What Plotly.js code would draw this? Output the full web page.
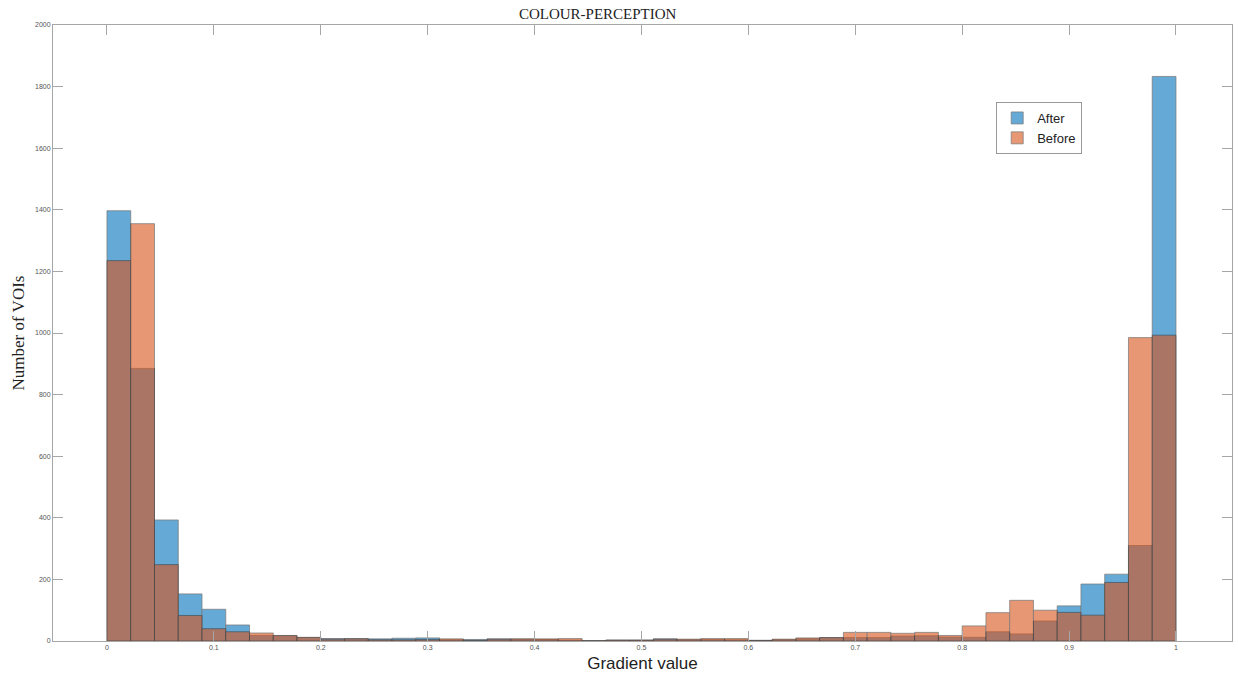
<!DOCTYPE html>
<html>
<head>
<meta charset="utf-8">
<script src="https://cdn.plot.ly/plotly-3.0.1.min.js"></script>
<style>
html,body{margin:0;padding:0;background:#fff;}
#chart{width:1238px;height:677px;}
</style>
</head>
<body>
<div id="chart"></div>
<script>
// Histogram: 45 equal bins over [0, 1]
const nBins = 45;
const binStart = 0;
const binEnd = 1;
const afterCounts = [1397, 885, 393, 153, 103, 52, 18, 17, 11, 8,
                     8, 7, 9, 10, 4, 5, 7, 6, 5, 3,
                     1, 3, 3, 7, 4, 5, 4, 2, 4, 7,
                     11, 11, 11, 16, 17, 13, 12, 30, 23, 65,
                     114, 185, 217, 310, 1833];
const beforeCounts = [1235, 1355, 248, 83, 40, 30, 26, 18, 12, 6,
                      7, 4, 4, 5, 7, 2, 6, 7, 7, 8,
                      1, 3, 3, 6, 6, 8, 8, 2, 6, 10,
                      11, 28, 28, 25, 28, 18, 49, 92, 132, 100,
                      93, 84, 190, 985, 993];
const seriesNames = ['After', 'Before'];
const xTicks = [0, 0.1, 0.2, 0.3, 0.4, 0.5, 0.6, 0.7, 0.8, 0.9, 1];
const xTickLabels = ['0', '0.1', '0.2', '0.3', '0.4', '0.5', '0.6', '0.7', '0.8', '0.9', '1'];
const yTicks = [0, 200, 400, 600, 800, 1000, 1200, 1400, 1600, 1800, 2000];

const binW = (binEnd - binStart) / nBins;
const centers = afterCounts.map((_, i) => binStart + (i + 0.5) * binW);

const edge = 'rgba(30,30,30,0.9)';
const traces = [
  {type: 'bar', name: seriesNames[0], x: centers, y: afterCounts, width: binW,
   marker: {color: 'rgb(0,114,189)', line: {color: edge, width: 0.8}}, opacity: 0.6},
  {type: 'bar', name: seriesNames[1], x: centers, y: beforeCounts, width: binW,
   marker: {color: 'rgb(217,83,25)', line: {color: edge, width: 0.8}}, opacity: 0.6}
];

const axisCommon = {
  showline: true, linecolor: '#a6a6a6', linewidth: 1, mirror: 'ticks',
  ticks: 'inside', ticklen: 10, tickcolor: '#a6a6a6', tickwidth: 1,
  showgrid: false, zeroline: false,
  tickfont: {family: 'Liberation Sans, Arial, sans-serif', size: 7, color: '#555'}
};

const layout = {
  width: 1238, height: 677,
  margin: {l: 53, r: 6, t: 25, b: 36},
  paper_bgcolor: '#fff', plot_bgcolor: '#fff',
  barmode: 'overlay', bargap: 0,
  showlegend: true,
  title: {text: 'COLOUR-PERCEPTION', x: 0.462, xanchor: 'center', xref: 'paper',
          y: 0.979, yanchor: 'middle',
          font: {family: 'Liberation Serif, Times New Roman, serif', size: 15, color: '#222'}},
  xaxis: Object.assign({}, axisCommon, {
    range: [-0.0505, 1.0524], tickvals: xTicks, ticktext: xTickLabels,
    title: {text: 'Gradient value', standoff: 6,
            font: {family: 'Liberation Sans, Arial, sans-serif', size: 17, color: '#222'}}
  }),
  yaxis: Object.assign({}, axisCommon, {
    range: [0, 2000], tickvals: yTicks,
    title: {text: 'Number of VOIs', standoff: 6,
            font: {family: 'Liberation Serif, Times New Roman, serif', size: 17, color: '#222'}}
  }),
  legend: {x: 0.8, y: 0.875, xanchor: 'left', yanchor: 'top',
           bgcolor: '#fff', bordercolor: '#999', borderwidth: 1,
           font: {family: 'Liberation Sans, Arial, sans-serif', size: 13, color: '#222'},
           itemwidth: 30, tracegroupgap: 2}
};

Plotly.newPlot('chart', traces, layout, {displayModeBar: false, staticPlot: true});
</script>
</body>
</html>
